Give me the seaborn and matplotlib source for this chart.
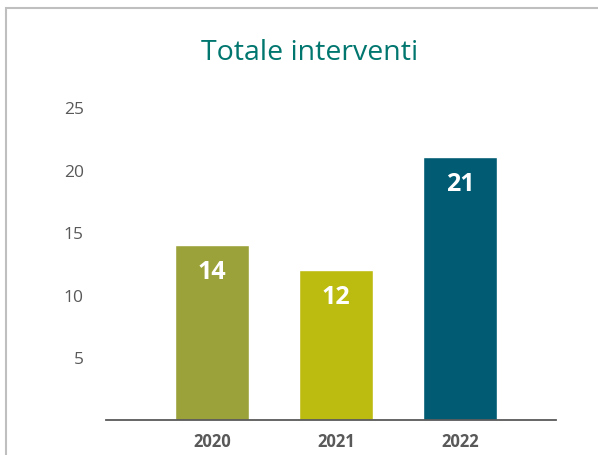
import matplotlib
matplotlib.use("Agg")
import matplotlib.pyplot as plt
import seaborn as sns
import pandas as pd
from matplotlib.patches import Rectangle

years = ["2020", "2021", "2022"]
interventi = [14, 12, 21]
bar_colors = ["#9ca23a", "#bcbb10", "#005b73"]
y_ticks = [5, 10, 15, 20, 25]

sns.set_theme(style="white")
plt.rcParams["font.family"] = ["Open Sans", "DejaVu Sans"]

df = pd.DataFrame({"Anno": years, "Interventi": interventi})

fig = plt.figure(figsize=(5.98, 4.56), dpi=100)
ax = fig.add_axes([0.1773, 0.0768, 0.7525, 0.6864])

sns.barplot(data=df, x="Anno", y="Interventi", hue="Anno", palette=bar_colors,
            width=0.6, legend=False, ax=ax, saturation=1)

ax.set_xlim(-0.855, 2.774)
ax.set_ylim(0, 25)
ax.set_yticks(y_ticks)
ax.set_yticklabels([str(t) for t in y_ticks], fontsize=12.5, color="#595959")
ax.tick_params(axis="y", length=0, pad=16)
ax.tick_params(axis="x", length=0, pad=9)
for lbl in ax.get_xticklabels():
    lbl.set_fontsize(12)
    lbl.set_fontweight("bold")
    lbl.set_color("#595959")
ax.set_xlabel("")
ax.set_ylabel("")

for s in ["top", "right", "left"]:
    ax.spines[s].set_visible(False)
ax.spines["bottom"].set_color("#595959")
ax.spines["bottom"].set_linewidth(1.3)

for i, v in enumerate(interventi):
    ax.annotate(str(v), (i, v), xytext=(0, -10), textcoords="offset points",
                ha="center", va="top", color="white", fontsize=18, fontweight="bold")

fig.text(0.518, 0.884, "Totale interventi", ha="center", va="center",
         fontsize=20.5, color="#00766f")

fig.patches.append(Rectangle((6 / 598, -0.1), 1.2, 1 - 9 / 456 + 0.1,
                             transform=fig.transFigure, fill=False,
                             edgecolor="#bfbfbf", linewidth=1.5))

fig.savefig("out.png", dpi=100)
